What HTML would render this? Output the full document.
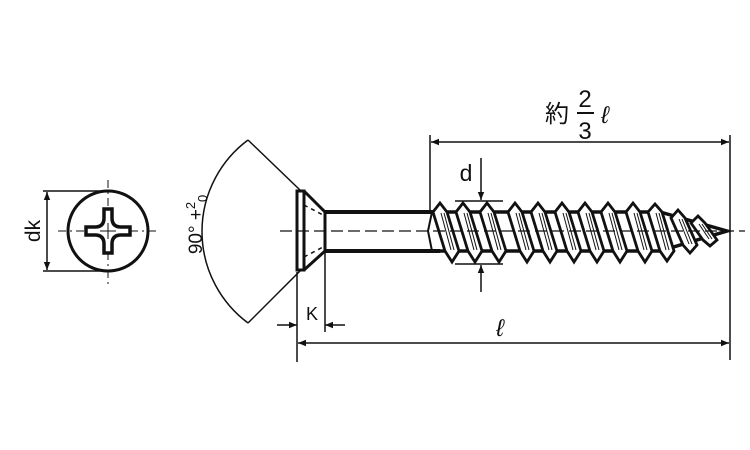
<!DOCTYPE html>
<html><head><meta charset="utf-8"><style>
html,body{margin:0;padding:0;background:#fff;width:750px;height:450px;overflow:hidden}
svg{display:block}
text{font-family:"Liberation Sans","Noto Sans CJK JP",sans-serif;fill:#111}
</style></head><body>
<svg id="s" width="750" height="450" viewBox="0 0 750 450" xmlns="http://www.w3.org/2000/svg">
<defs>
<marker id="a" viewBox="0 0 10 10" refX="10" refY="5" markerWidth="10" markerHeight="8" markerUnits="userSpaceOnUse" orient="auto-start-reverse"><path d="M0,1 L10,5 L0,9 z" fill="#111"/></marker>
</defs>
<g stroke="#111" fill="none">
<circle cx="108" cy="231" r="40" stroke-width="3"/>
<line x1="58" y1="231" x2="160" y2="231" stroke-width="1" stroke-dasharray="8,4,2,4"/>
<line x1="108" y1="180" x2="108" y2="284" stroke-width="1" stroke-dasharray="8,4,2,4"/>
<path d="M104,209 L112,209 L112,218 Q112,227 121,227 L130,227 L130,235 L121,235 Q112,235 112,244 L112,253 L104,253 L104,244 Q104,235 95,235 L86,235 L86,227 L95,227 Q104,227 104,218 Z" stroke-width="3.5" fill="#fff"/>
<line x1="100" y1="231" x2="116" y2="231" stroke-width="1"/>
<line x1="108" y1="223" x2="108" y2="239" stroke-width="1"/>
<line x1="43" y1="191" x2="108" y2="191" stroke-width="1.5"/>
<line x1="43" y1="271" x2="108" y2="271" stroke-width="1.5"/>
<line x1="47" y1="192" x2="47" y2="270" stroke-width="1.5" marker-start="url(#a)" marker-end="url(#a)"/>
<line x1="248" y1="140" x2="300" y2="190" stroke-width="1.5"/>
<line x1="248" y1="323" x2="300" y2="271" stroke-width="1.5"/>
<path d="M248,140 A114,114 0 0 0 248,323" stroke-width="1.5"/>
<rect x="297" y="191" width="7" height="79" stroke-width="3" fill="#fff"/>
<path d="M304,191 L325,212 L325,251 L304,270" stroke-width="3"/>
<path d="M304,205 L325,216 M304,257 L325,246" stroke-width="1.5" stroke-dasharray="4,4"/>
<line x1="325" y1="212" x2="440" y2="212" stroke-width="4"/>
<line x1="325" y1="251" x2="440" y2="251" stroke-width="4"/>
<path d="M430,212 L660,212 L727,231 L660,251 L430,251" stroke-width="3.5"/>
<path d="M432,212 L428,231 L432,251" stroke-width="2"/>
<g id="th"></g>
<line x1="280" y1="231" x2="745" y2="231" stroke-width="1.3" stroke-dasharray="12,5"/>
<line x1="297" y1="272" x2="297" y2="362" stroke-width="1.5"/>
<line x1="325" y1="252" x2="325" y2="332" stroke-width="1.5"/>
<line x1="277" y1="325" x2="297" y2="325" stroke-width="1.5" marker-end="url(#a)"/>
<line x1="345" y1="325" x2="325" y2="325" stroke-width="1.5" marker-end="url(#a)"/>
<line x1="298" y1="343" x2="729" y2="343" stroke-width="1.5" marker-start="url(#a)" marker-end="url(#a)"/>
<line x1="730" y1="135" x2="730" y2="360" stroke-width="1.5"/>
<line x1="430" y1="135" x2="430" y2="210" stroke-width="1.5"/>
<line x1="431" y1="142" x2="729" y2="142" stroke-width="1.5" marker-start="url(#a)" marker-end="url(#a)"/>
<line x1="455" y1="201" x2="503" y2="201" stroke-width="1.5"/>
<line x1="455" y1="264" x2="503" y2="264" stroke-width="1.5"/>
<line x1="481" y1="158" x2="481" y2="200" stroke-width="1.5" marker-end="url(#a)"/>
<line x1="481" y1="292" x2="481" y2="265" stroke-width="1.5" marker-end="url(#a)"/>
<line x1="577" y1="113" x2="594" y2="113" stroke-width="2"/>
</g>
<text x="33" y="231" font-size="21" text-anchor="middle" transform="rotate(-90 33 231)" dy="7">dk</text>
<text x="196" y="228" font-size="19" text-anchor="middle" transform="rotate(-90 196 228)" dy="6">90° +<tspan font-size="13" dy="-7">2</tspan></text>
<text x="207" y="202" font-size="13" transform="rotate(-90 207 202)">0</text>
<text x="312" y="320" font-size="18" text-anchor="middle">K</text>
<text x="500" y="336" font-size="24" font-style="italic" text-anchor="middle">ℓ</text>
<text x="466" y="181" font-size="23" text-anchor="middle">d</text>
<text x="557" y="122" font-size="24" text-anchor="middle">約</text>
<text x="585" y="107" font-size="24" text-anchor="middle">2</text>
<text x="585" y="139" font-size="24" text-anchor="middle">3</text>
<text x="605" y="123" font-size="24" font-style="italic" text-anchor="middle">ℓ</text>
</svg>
<script>
var g=document.getElementById('th'),h='';
var crest=[440,463,487,515,538,562,585,608,633,655,678,698];
var tc=[203,203,203,203,203,203,203,203,203,204,210,216];
var bc=[262,262,262,262,262,262,262,262,262,261,253,246];
var tr=[212,212,212,212,212,212,212,212,212,212,218,223];
var br=[251,251,251,251,251,251,251,251,251,251,245,240];
for(var i=0;i<crest.length;i++){var x=crest[i];
var p=(x-7)+','+tr[i]+' '+x+','+tc[i]+' '+(x+7)+','+tr[i]+' '+(x+19)+','+br[i]+' '+(x+12)+','+bc[i]+' '+(x+5)+','+br[i];
h+='<polygon points="'+p+'" fill="#fff" stroke-width="2.8" stroke-linejoin="miter"/>';
h+='<line x1="'+(x+1)+'" y1="'+(tr[i]+1)+'" x2="'+(x+11)+'" y2="'+(br[i]-1)+'" stroke-width="1"/>';
h+='<line x1="'+(x+4)+'" y1="'+(tr[i]+1)+'" x2="'+(x+14)+'" y2="'+(br[i]-1)+'" stroke-width="1"/>';}
g.innerHTML=h;
</script>
</body></html>
